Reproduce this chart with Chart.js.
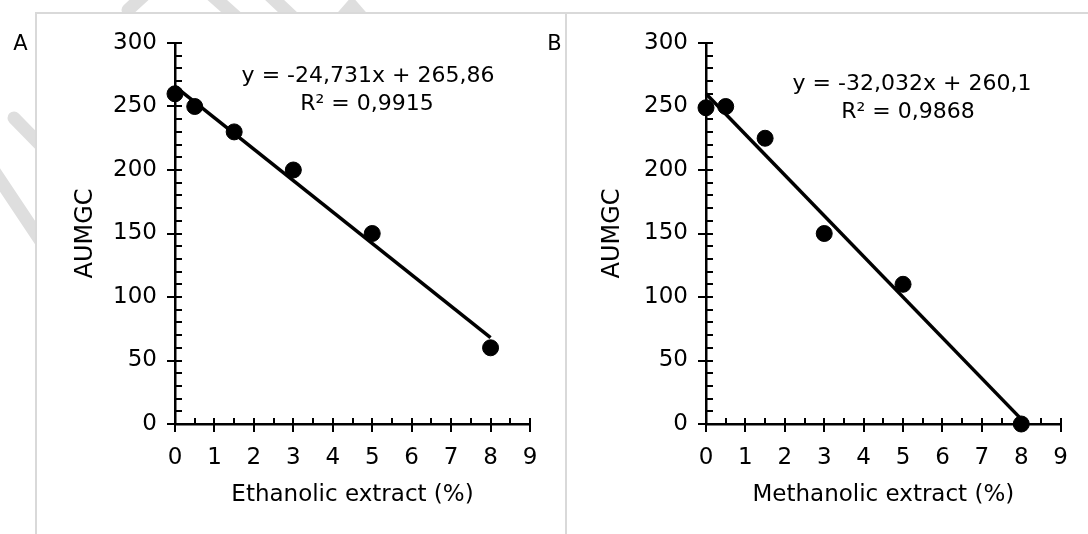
<!DOCTYPE html>
<html>
<head>
<meta charset="utf-8">
<script src="https://cdn.jsdelivr.net/npm/chart.js@4.4.1/dist/chart.umd.min.js"></script>
<style>
  html, body { margin: 0; padding: 0; background: #fff; }
  #wrap { position: relative; width: 1088px; height: 534px; overflow: hidden; }
  svg.wm { position: absolute; left: 0; top: 0; }
  .frame { position: absolute; left: 35px; top: 12px; width: 1053px; height: 522px; box-sizing: border-box;
           background: #fff; border-left: 2px solid #d9d9d9; border-top: 2px solid #d9d9d9; }
  .divider { position: absolute; left: 565px; top: 13px; width: 2px; height: 521px; background: #d9d9d9; }
  canvas { position: absolute; top: 0; }
</style>
</head>
<body>
<div id="wrap">
  <svg class="wm" width="1088" height="534">
    <g stroke="#dedede" stroke-width="13" stroke-linecap="round" fill="none">
      <line x1="14" y1="118" x2="60" y2="165" />
      <line x1="-20" y1="150" x2="60" y2="270" />
      <line x1="128" y1="10" x2="152" y2="-12" />
      <line x1="206" y1="-10" x2="242" y2="22" />
      <line x1="264" y1="-10" x2="298" y2="22" />
      <polyline points="338,22 352,6 366,22" />
    </g>
  </svg>
  <div class="frame"></div>
  <div class="divider"></div>
  <canvas id="chartA" width="566" height="534" style="left:0"></canvas>
  <canvas id="chartB" width="521" height="534" style="left:567px"></canvas>
</div>
<script>
// ── data ─────────────────────────────────────────────────────────────────────

const extractPct = [0, 0.5, 1.5, 3, 5, 8];
const aumgcEthanolic = [260, 250, 230, 200, 150, 60];
const aumgcMethanolic = [249, 250, 225, 150, 110, 0];

// trendline ends (x = 0 and x = 8)
const trendX = [0, 8];
const trendEthanolic = [265.86, 68.01];
const trendMethanolic = [260.1, 3.84];

const xTickValues = [0, 1, 2, 3, 4, 5, 6, 7, 8, 9];
const yTickValues = [0, 50, 100, 150, 200, 250, 300];

// ── helpers ──────────────────────────────────────────────────────────────────

const FONT = '"DejaVu Sans", sans-serif';

const toPoints = (xs, ys) => xs.map((x, i) => ({ x, y: ys[i] }));

// Excel-style tick marks: major crosses the axis, minor sits inside;
// plus the free text (trendline equation, panel letters)
const tickMarks = {
  id: 'tickMarks',
  beforeDatasetsDraw(chart) {
    const { ctx, scales: { x, y } } = chart;
    const x0 = x.getPixelForValue(0);
    const y0 = y.getPixelForValue(0);
    ctx.save();
    ctx.strokeStyle = '#000';
    ctx.lineWidth = 2;
    ctx.beginPath();
    for (let v = 0; v <= 300; v += 10) {
      const py = Math.round(y.getPixelForValue(v));
      const major = v % 50 === 0;
      ctx.moveTo(major ? x0 - 8 : x0, py);
      ctx.lineTo(x0 + 7, py);
    }
    for (let v = 0; v <= 9; v += 0.5) {
      const px = Math.round(x.getPixelForValue(v));
      const major = v % 1 === 0;
      ctx.moveTo(px, y0 - 6);
      ctx.lineTo(px, major ? y0 + 8 : y0);
    }
    ctx.stroke();
    ctx.restore();
  },
  afterDraw(chart, args, opts) {
    const { ctx } = chart;
    ctx.save();
    ctx.fillStyle = '#000';
    ctx.textAlign = 'center';
    ctx.textBaseline = 'alphabetic';
    opts.lines.forEach((l) => {
      ctx.font = `${l.size}px ${FONT}`;
      ctx.fillText(l.text, l.x, l.y);
    });
    ctx.restore();
  },
};

function makeChart(id, ys, trendYs, xTitle, area, lines) {
  return new Chart(document.getElementById(id), {
    type: 'scatter',
    data: {
      datasets: [
        {
          data: toPoints(extractPct, ys),
          backgroundColor: '#000',
          borderColor: '#000',
          pointRadius: 8,
          pointHoverRadius: 8,
          clip: false,
        },
        {
          data: toPoints(trendX, trendYs),
          showLine: true,
          borderColor: '#000',
          borderWidth: 3.5,
          pointRadius: 0,
          clip: false,
        },
      ],
    },
    options: {
      responsive: false,
      animation: false,
      devicePixelRatio: 1,
      layout: { padding: { left: 0, top: area.top, right: area.right, bottom: 0 } },
      plugins: {
        legend: { display: false },
        tooltip: { enabled: false },
        tickMarks: { lines },
      },
      scales: {
        x: {
          type: 'linear',
          min: 0,
          max: 9,
          afterBuildTicks: (s) => { s.ticks = xTickValues.map((value) => ({ value })); },
          afterFit: (s) => { s.height = area.xHeight; },
          grid: { display: false, drawTicks: false },
          border: { display: true, color: '#000', width: 2.5 },
          ticks: { color: '#000', font: { family: FONT, size: 23 }, padding: 20, maxRotation: 0 },
          title: { display: true, text: xTitle, color: '#000', font: { family: FONT, size: 23 }, padding: { top: 0, bottom: 25 } },
        },
        y: {
          type: 'linear',
          min: 0,
          max: 300,
          afterBuildTicks: (s) => { s.ticks = yTickValues.map((value) => ({ value })); },
          afterFit: (s) => { s.width = area.left; },
          grid: { display: false, drawTicks: false },
          border: { display: true, color: '#000', width: 2.5 },
          ticks: { color: '#000', font: { family: FONT, size: 23 }, padding: 18 },
          title: { display: true, text: 'AUMGC', color: '#000', font: { family: FONT, size: 24 }, padding: { top: area.yTitle, bottom: 0 } },
        },
      },
    },
    plugins: [tickMarks],
  });
}

// ── boot ─────────────────────────────────────────────────────────────────────

makeChart('chartA', aumgcEthanolic, trendEthanolic, 'Ethanolic extract (%)',
  { left: 175, top: 43, right: 36, xHeight: 110, yTitle: 71 },
  [
    { text: 'y = -24,731x + 265,86', x: 368, y: 82, size: 22 },
    { text: 'R² = 0,9915', x: 367, y: 110, size: 22 },
    { text: 'A', x: 20.5, y: 50, size: 21 },
    { text: 'B', x: 554.5, y: 50, size: 21 },
  ]);

makeChart('chartB', aumgcMethanolic, trendMethanolic, 'Methanolic extract (%)',
  { left: 139, top: 43, right: 27, xHeight: 110, yTitle: 31 },
  [
    { text: 'y = -32,032x + 260,1', x: 345, y: 90, size: 22 },
    { text: 'R² = 0,9868', x: 341, y: 118, size: 22 },
  ]);
</script>
</body>
</html>
